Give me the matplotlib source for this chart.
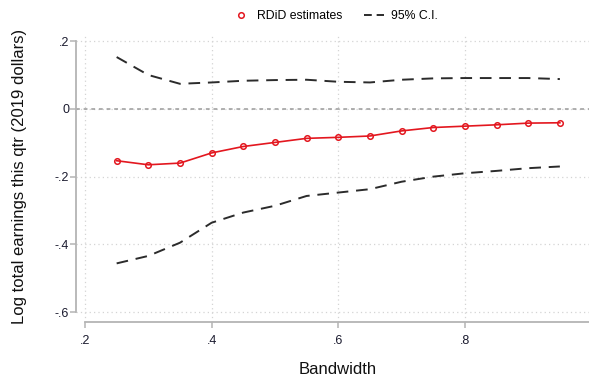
import numpy as np
import matplotlib.pyplot as plt

plt.rcParams['font.family'] = ['Liberation Sans', 'DejaVu Sans']

bandwidth = [0.25, 0.30, 0.35, 0.40, 0.45, 0.50, 0.55, 0.60,
             0.65, 0.70, 0.75, 0.80, 0.85, 0.90, 0.95]
estimate = [-0.153, -0.165, -0.160, -0.130, -0.111, -0.099, -0.087, -0.084,
            -0.080, -0.065, -0.055, -0.051, -0.047, -0.042, -0.041]
ci_upper = [0.153, 0.100, 0.074, 0.078, 0.083, 0.085, 0.086, 0.080,
            0.078, 0.086, 0.090, 0.091, 0.091, 0.091, 0.088]
ci_lower = [-0.456, -0.434, -0.395, -0.336, -0.306, -0.286, -0.257, -0.247,
            -0.237, -0.215, -0.200, -0.190, -0.183, -0.175, -0.170]

xticks = [0.2, 0.4, 0.6, 0.8]
xticklabels = ['.2', '.4', '.6', '.8']
yticks = [-0.6, -0.4, -0.2, 0, 0.2]
yticklabels = ['-.6', '-.4', '-.2', '0', '.2']

W, H = 589, 379
fig = plt.figure(figsize=(W / 100, H / 100), dpi=100)
ax = fig.add_axes([76 / W, (H - 322) / H, (589 - 76) / W, (322 - 34) / H])

ax.set_xlim(0.1858, 0.996)
ax.set_ylim(-0.629, 0.221)

# grid
for xt in xticks:
    ax.axvline(xt, color='#d4d4d4', lw=0.9, ls=(0, (1, 2.5)), zorder=0)
for yt in yticks:
    ax.axhline(yt, color='#d4d4d4', lw=0.9, ls=(0, (1, 2.5)), zorder=0)
ax.axhline(0, color='#9a9a9a', lw=1.1, ls=(0, (2.5, 2.5)), zorder=1)

ci_line, = ax.plot(bandwidth, ci_upper, color='#2b2b2b', lw=1.4,
                   ls=(0, (6, 4)), zorder=2)
ax.plot(bandwidth, ci_lower, color='#2b2b2b', lw=1.4, ls=(0, (6, 4)), zorder=2)
est_line, = ax.plot(bandwidth, estimate, color='#e3171f', lw=1.2,
                    marker='o', ms=4, mfc='none', mec='#e3171f', mew=1.1,
                    zorder=3)

for side in ['top', 'right']:
    ax.spines[side].set_visible(False)
for side in ['left', 'bottom']:
    ax.spines[side].set_color('#b4b4b4')
    ax.spines[side].set_linewidth(1.3)
ax.spines['left'].set_bounds(-0.6, 0.2)
ax.spines['bottom'].set_bounds(0.2, 0.996)

ax.set_xticks(xticks)
ax.set_xticklabels(xticklabels)
ax.set_yticks(yticks)
ax.set_yticklabels(yticklabels)
ax.tick_params(axis='both', colors='#b4b4b4', labelcolor='#1a1a2e',
               labelsize=9, length=4, width=1.1)
ax.tick_params(axis='x', pad=5)
ax.tick_params(axis='y', pad=1)

fig.text(338 / W, 1 - 369 / H, 'Bandwidth', fontsize=12, color='#111111',
         ha='center', va='center')
fig.text(20 / W, 1 - 176 / H, 'Log total earnings this qtr (2019 dollars)',
         fontsize=12, color='#111111', rotation=90, ha='center', va='center')

leg = fig.legend([est_line, ci_line], ['RDiD estimates', '95% C.I.'],
                 loc='center', bbox_to_anchor=(334 / W, 1 - 16 / H), ncol=2,
                 frameon=False, fontsize=8.8, handlelength=1.7,
                 columnspacing=1.7, handletextpad=0.5)
leg.legend_handles[0].set_linestyle('none')
leg.legend_handles[1].set_linestyle((0, (4, 2.5)))

fig.savefig('out.png', dpi=100)
